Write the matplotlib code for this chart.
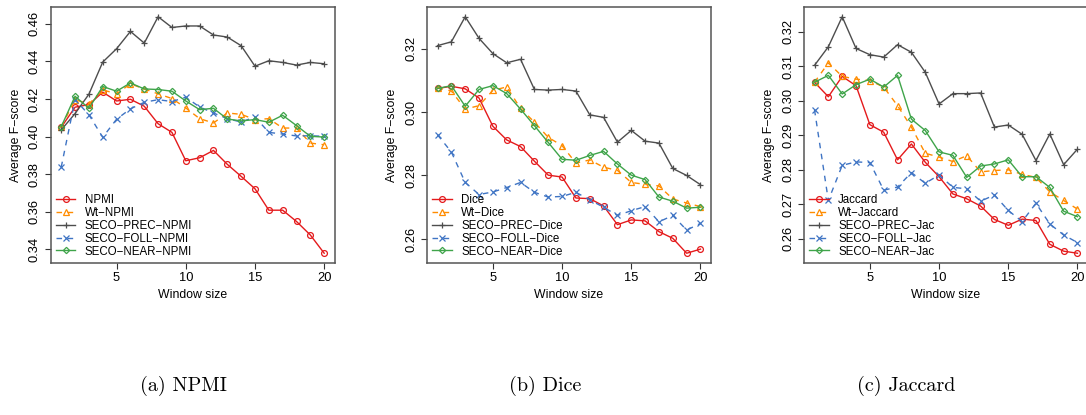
import matplotlib.pyplot as plt
import numpy as np

plt.rcParams['font.family'] = 'Liberation Sans'

window = np.arange(1, 21)

# (a) NPMI
npmi = [0.4049, 0.4156, 0.4170, 0.4236, 0.4189, 0.4198, 0.4161, 0.4068, 0.4022, 0.3871,
        0.3887, 0.3926, 0.3852, 0.3788, 0.3722, 0.3608, 0.3608, 0.3548, 0.3476, 0.3379]
wt_npmi = [0.4050, 0.4196, 0.4173, 0.4248, 0.4227, 0.4280, 0.4253, 0.4227, 0.4202, 0.4152,
           0.4095, 0.4072, 0.4125, 0.4118, 0.4090, 0.4095, 0.4045, 0.4045, 0.3965, 0.3956]
prec_npmi = [0.4035, 0.4122, 0.4225, 0.4396, 0.4467, 0.4559, 0.4497, 0.4637, 0.4580, 0.4588,
             0.4588, 0.4540, 0.4529, 0.4483, 0.4374, 0.4403, 0.4394, 0.4380, 0.4394, 0.4387]
foll_npmi = [0.3837, 0.4196, 0.4116, 0.3996, 0.4092, 0.4147, 0.4182, 0.4196, 0.4186, 0.4209,
             0.4157, 0.4125, 0.4095, 0.4077, 0.4104, 0.4022, 0.4013, 0.4003, 0.4004, 0.4001]
near_npmi = [0.4052, 0.4214, 0.4150, 0.4266, 0.4241, 0.4285, 0.4253, 0.4250, 0.4241, 0.4189,
             0.4143, 0.4150, 0.4093, 0.4083, 0.4090, 0.4076, 0.4113, 0.4058, 0.4001, 0.3997]

# (b) Dice
dice = [0.3074, 0.3081, 0.3073, 0.3044, 0.2955, 0.2912, 0.2891, 0.2845, 0.2801, 0.2795,
        0.2729, 0.2727, 0.2704, 0.2645, 0.2660, 0.2657, 0.2623, 0.2602, 0.2555, 0.2568]
wt_dice = [0.3076, 0.3066, 0.3009, 0.3020, 0.3068, 0.3079, 0.3011, 0.2968, 0.2920, 0.2894,
           0.2839, 0.2849, 0.2826, 0.2816, 0.2778, 0.2772, 0.2767, 0.2726, 0.2713, 0.2702]
prec_dice = [0.3209, 0.3221, 0.3300, 0.3232, 0.3184, 0.3155, 0.3166, 0.3071, 0.3069, 0.3071,
             0.3066, 0.2991, 0.2983, 0.2905, 0.2942, 0.2908, 0.2902, 0.2822, 0.2800, 0.2771]
foll_dice = [0.2928, 0.2874, 0.2778, 0.2740, 0.2748, 0.2762, 0.2778, 0.2747, 0.2732, 0.2734,
             0.2747, 0.2723, 0.2700, 0.2674, 0.2689, 0.2702, 0.2654, 0.2674, 0.2628, 0.2649]
near_dice = [0.3074, 0.3083, 0.3018, 0.3071, 0.3083, 0.3058, 0.3009, 0.2957, 0.2904, 0.2851,
             0.2848, 0.2863, 0.2876, 0.2836, 0.2801, 0.2787, 0.2732, 0.2719, 0.2697, 0.2700]

# (c) Jaccard
jac = [0.3054, 0.3012, 0.3071, 0.3044, 0.2931, 0.2909, 0.2829, 0.2875, 0.2822, 0.2780,
       0.2730, 0.2716, 0.2695, 0.2656, 0.2639, 0.2657, 0.2653, 0.2584, 0.2564, 0.2558]
wt_jac = [0.3054, 0.3110, 0.3071, 0.3063, 0.3059, 0.3040, 0.2986, 0.2924, 0.2848, 0.2837,
          0.2824, 0.2841, 0.2794, 0.2798, 0.2800, 0.2787, 0.2778, 0.2736, 0.2711, 0.2686]
prec_jac = [0.3103, 0.3157, 0.3244, 0.3152, 0.3134, 0.3127, 0.3163, 0.3141, 0.3083, 0.2991,
            0.3021, 0.3021, 0.3023, 0.2924, 0.2930, 0.2903, 0.2827, 0.2904, 0.2815, 0.2860]
foll_jac = [0.2974, 0.2711, 0.2813, 0.2823, 0.2821, 0.2741, 0.2750, 0.2792, 0.2761, 0.2785,
            0.2749, 0.2745, 0.2709, 0.2727, 0.2682, 0.2650, 0.2703, 0.2643, 0.2611, 0.2589]
near_jac = [0.3054, 0.3074, 0.3020, 0.3047, 0.3063, 0.3040, 0.3074, 0.2947, 0.2914, 0.2852,
            0.2842, 0.2778, 0.2811, 0.2817, 0.2829, 0.2780, 0.2780, 0.2749, 0.2680, 0.2664]

panels = [
    ([npmi, wt_npmi, prec_npmi, foll_npmi, near_npmi],
     ['NPMI', 'Wt\u2212NPMI', 'SECO\u2212PREC\u2212NPMI', 'SECO\u2212FOLL\u2212NPMI', 'SECO\u2212NEAR\u2212NPMI'],
     np.arange(0.34, 0.461, 0.02), '(a) NPMI', 50.7, 183),
    ([dice, wt_dice, prec_dice, foll_dice, near_dice],
     ['Dice', 'Wt\u2212Dice', 'SECO\u2212PREC\u2212Dice', 'SECO\u2212FOLL\u2212Dice', 'SECO\u2212NEAR\u2212Dice'],
     np.arange(0.26, 0.321, 0.02), '(b) Dice', 427, 545),
    ([jac, wt_jac, prec_jac, foll_jac, near_jac],
     ['Jaccard', 'Wt\u2212Jaccard', 'SECO\u2212PREC\u2212Jac', 'SECO\u2212FOLL\u2212Jac', 'SECO\u2212NEAR\u2212Jac'],
     np.arange(0.26, 0.321, 0.01), '(c) Jaccard', 804, 906),
]

# colour, linestyle, marker
styles = [
    ('#e41a1c', '-', 'o'),
    ('#ff8c00', (0, (4, 4)), '^'),
    ('#4d4d4d', '-', '+'),
    ('#3f74c4', (0, (4, 4)), 'x'),
    ('#3fa44a', '-', 'D'),
]

W, H = 1086, 415
fig = plt.figure(figsize=(W / 100, H / 100), dpi=100)

for series, labels, yticks, caption, left, cx in panels:
    ax = fig.add_axes([left / W, 152.3 / H, 284 / W, 255.4 / H])
    for vals, lab, (c, ls, m) in zip(series, labels, styles):
        ms = 3.2 if m == 'D' else 4.2
        ax.plot(window, vals, color=c, linestyle=ls, lw=1.0, marker=m, ms=ms,
                mfc='none', mec=c, mew=0.9, label=lab)
    ax.margins(x=0.04, y=0.04)
    ax.set_xticks([5, 10, 15, 20])
    ax.set_yticks(yticks)
    ax.set_yticklabels(['%.2f' % t for t in yticks])
    ax.tick_params(axis='y', labelrotation=90)
    for t in ax.get_yticklabels():
        t.set_va('center')
    ax.tick_params(labelsize=9.3, length=4, width=0.8, pad=3, color='#333333')
    for s in ax.spines.values():
        s.set_color('#555555')
        s.set_linewidth(1.1)
    ax.set_xlabel('Window size', fontsize=8.8, labelpad=3)
    ax.set_ylabel('Average F\u2212score', fontsize=8.8, labelpad=5)
    ax.legend(loc='lower left', frameon=False, fontsize=8.3, handlelength=1.7,
              handletextpad=0.8, labelspacing=0.08, borderaxespad=0.25, borderpad=0.2)
    fig.text(cx / W, 1 - 386 / H, caption, fontfamily='cmr10', fontsize=14.5,
             ha='center', va='center')

fig.savefig('out.png', dpi=100)
